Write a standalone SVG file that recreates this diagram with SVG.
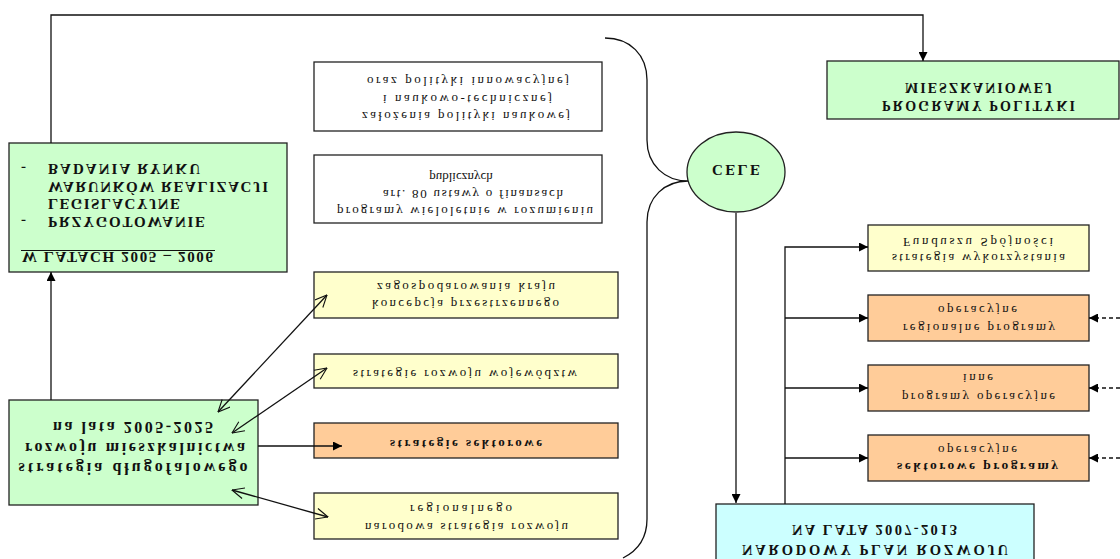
<svg xmlns="http://www.w3.org/2000/svg" width="1120" height="559" viewBox="0 0 1120 559">
<style>
.box{stroke:#222;stroke-width:1.3}
.g{fill:#ccffcc}.y{fill:#ffffcc}.o{fill:#ffcc99}.c{fill:#ccffff}.w{fill:#ffffff}
.ln{fill:none;stroke:#111;stroke-width:1.3}
.dash{stroke-dasharray:4,3}
text{font-family:"Liberation Serif","Times New Roman",serif;fill:#111}
.r{font-size:13px}
.b{font-weight:bold}
.m{text-anchor:middle}
</style>
<defs>
<marker id="fa" viewBox="0 0 10 10" refX="10" refY="5" markerWidth="10" markerHeight="9" markerUnits="userSpaceOnUse" orient="auto"><path d="M0,0 L10,5 L0,10 z" fill="#000"/></marker>
<marker id="oa" viewBox="0 0 12 12" refX="12" refY="6" markerWidth="13" markerHeight="12" markerUnits="userSpaceOnUse" orient="auto-start-reverse"><path d="M0,0.5 L12,6 L0,11.5" fill="none" stroke="#111" stroke-width="1.1"/></marker>
</defs>
<g transform="matrix(1 0 0 -1 0 559)">
<g id="n-badania">
<rect class="box g" x="9" y="287" width="278" height="129"/>
<text class="b" style="font-size:15px" x="22" y="307" textLength="191" lengthAdjust="spacing">W LATACH 2005 – 2006</text>
<line x1="21" y1="308.5" x2="215" y2="308.5" stroke="#111" stroke-width="1.2"/>
<text class="b" style="font-size:15px" x="21" y="342">-</text>
<text class="b" style="font-size:15px" x="48" y="342" textLength="157" lengthAdjust="spacing">PRZYGOTOWANIE</text>
<text class="b" style="font-size:15px" x="48" y="360" textLength="132" lengthAdjust="spacing">LEGISLACYJNE</text>
<text class="b" style="font-size:15px" x="48" y="377" textLength="220" lengthAdjust="spacing">WARUNKÓW REALIZACJI</text>
<text class="b" style="font-size:15px" x="21" y="395">-</text>
<text class="b" style="font-size:15px" x="48" y="395" textLength="152" lengthAdjust="spacing">BADANIA RYNKU</text>
</g>
<g id="n-strategia">
<rect class="box g" x="9" y="54" width="249" height="105"/>
<text class="b m" style="font-size:16px" x="133" y="96" textLength="229" lengthAdjust="spacing">strategia  długofalowego</text>
<text class="b m" style="font-size:16px" x="135" y="116.5" textLength="220" lengthAdjust="spacing">rozwoju mieszkalnictwa</text>
<text class="b m" style="font-size:16px" x="133" y="137" textLength="160" lengthAdjust="spacing">na lata 2005-2025</text>
</g>
<g id="n-zalozenia">
<rect class="box w" x="314" y="428" width="288" height="69"/>
<text class="r m" x="466" y="447" textLength="208" lengthAdjust="spacing">założenia polityki naukowej</text>
<text class="r m" x="467.5" y="464.5" textLength="169" lengthAdjust="spacing">i naukowo-technicznej</text>
<text class="r m" x="468" y="482" textLength="202" lengthAdjust="spacing">oraz polityki innowacyjnej</text>
</g>
<g id="n-programy-wieloletnie">
<rect class="box w" x="314" y="336" width="288" height="68"/>
<text class="r m" x="465" y="352" textLength="256" lengthAdjust="spacing">programy wieloletnie w rozumieniu</text>
<text class="r m" x="473" y="369" textLength="180" lengthAdjust="spacing">art. 80 ustawy o finansach</text>
<text class="r m" x="461" y="386">publicznych</text>
</g>
<g id="n-koncepcja">
<rect class="box y" x="314" y="241" width="304" height="46"/>
<text class="r m" x="465.5" y="259" textLength="187" lengthAdjust="spacing">koncepcja przestrzennego</text>
<text class="r m" x="466" y="276" textLength="178" lengthAdjust="spacing">zagospodarowania kraju</text>
</g>
<g id="n-wojewodztw">
<rect class="box y" x="314" y="171" width="304" height="34"/>
<text class="r m" x="465" y="189.5" textLength="224" lengthAdjust="spacing">strategie rozwoju województw</text>
</g>
<g id="n-sektorowe">
<rect class="box o" x="314" y="101" width="304" height="35"/>
<text class="b m" style="font-size:13px" x="466" y="119" textLength="152" lengthAdjust="spacing">strategie sektorowe</text>
</g>
<g id="n-narodowa">
<rect class="box y" x="314" y="20" width="304" height="46"/>
<text class="r m" x="466.5" y="36" textLength="203" lengthAdjust="spacing">narodowa strategia rozwoju</text>
<text class="r m" x="461" y="54" textLength="102" lengthAdjust="spacing">regionalnego</text>
</g>
<g id="n-cele">
<ellipse cx="736" cy="387" rx="49" ry="40" fill="#ccffcc" stroke="#222" stroke-width="1.3"/>
<text class="b m" style="font-size:15px" x="736" y="394" textLength="48" lengthAdjust="spacing">CELE</text>
</g>
<g id="n-polityki">
<rect class="box g" x="827" y="440" width="292" height="58"/>
<text class="b m" style="font-size:14px" x="978.5" y="458" textLength="193" lengthAdjust="spacing">PROGRAMY POLITYKI</text>
<text class="b m" style="font-size:14px" x="978.5" y="476" textLength="147" lengthAdjust="spacing">MIESZKANIOWEJ</text>
</g>
<g id="n-fundusz">
<rect class="box y" x="868" y="288" width="221" height="46"/>
<text class="r m" x="978.5" y="305.5" textLength="173" lengthAdjust="spacing">strategia wykorzystania</text>
<text class="r m" x="978" y="321" textLength="150" lengthAdjust="spacing">Funduszu Spójności</text>
</g>
<g id="n-regionalne">
<rect class="box o" x="868" y="218" width="221" height="46"/>
<text class="r m" x="979" y="235.5" textLength="152" lengthAdjust="spacing">regionalne programy</text>
<text class="r m" x="977.5" y="253.5" textLength="79" lengthAdjust="spacing">operacyjne</text>
</g>
<g id="n-inne">
<rect class="box o" x="868" y="148" width="221" height="46"/>
<text class="r m" x="978.5" y="166" textLength="153" lengthAdjust="spacing">programy operacyjne</text>
<text class="r m" x="978" y="185.5" textLength="30" lengthAdjust="spacing">inne</text>
</g>
<g id="n-sektorowe-programy">
<rect class="box o" x="868" y="78" width="221" height="46"/>
<text class="b m" style="font-size:13.5px" x="977.5" y="96" textLength="161" lengthAdjust="spacing">sektorowe programy</text>
<text class="r m" x="977.5" y="113" textLength="79" lengthAdjust="spacing">operacyjne</text>
</g>
<g id="n-npr">
<rect class="box c" x="716" y="-5" width="318" height="60"/>
<text class="b m" style="font-size:14.5px" x="875" y="14" textLength="266" lengthAdjust="spacing">NARODOWY PLAN ROZWOJU</text>
<text class="b m" style="font-size:14.5px" x="874.5" y="34" textLength="165" lengthAdjust="spacing">NA LATA 2007-2013</text>
</g>
<g id="connectors">
<path class="ln" d="M51,416 L51,544 L923,544 L923,498" marker-end="url(#fa)"/>
<line class="ln" x1="51" y1="159" x2="51" y2="287" marker-end="url(#fa)"/>
<line class="ln" x1="258" y1="113" x2="342" y2="113" marker-end="url(#fa)"/>
<line class="ln" x1="218" y1="147" x2="327" y2="264" marker-start="url(#oa)" marker-end="url(#oa)"/>
<line class="ln" x1="232" y1="126" x2="327" y2="191" marker-start="url(#oa)" marker-end="url(#oa)"/>
<line class="ln" x1="232" y1="69" x2="328" y2="42" marker-start="url(#oa)" marker-end="url(#oa)"/>
<path class="ln" d="M605,521 C630,521 647,504 647,479 L647,419 C647,394 665,378 688,378 C665,378 647,362 647,337 L647,40 C647,20 637,8 623,1"/>
<line class="ln" x1="736" y1="346" x2="736" y2="56" marker-end="url(#fa)"/>
<path class="ln" d="M785,55 L785,312 L868,312" marker-end="url(#fa)"/>
<line class="ln" x1="785" y1="241" x2="868" y2="241" marker-end="url(#fa)"/>
<line class="ln" x1="785" y1="171" x2="868" y2="171" marker-end="url(#fa)"/>
<line class="ln" x1="785" y1="101" x2="868" y2="101" marker-end="url(#fa)"/>
<line class="ln dash" x1="1120" y1="241" x2="1089" y2="241" marker-end="url(#fa)"/>
<line class="ln dash" x1="1120" y1="171" x2="1089" y2="171" marker-end="url(#fa)"/>
<line class="ln dash" x1="1120" y1="101" x2="1089" y2="101" marker-end="url(#fa)"/>
</g>
</g>
</svg>
